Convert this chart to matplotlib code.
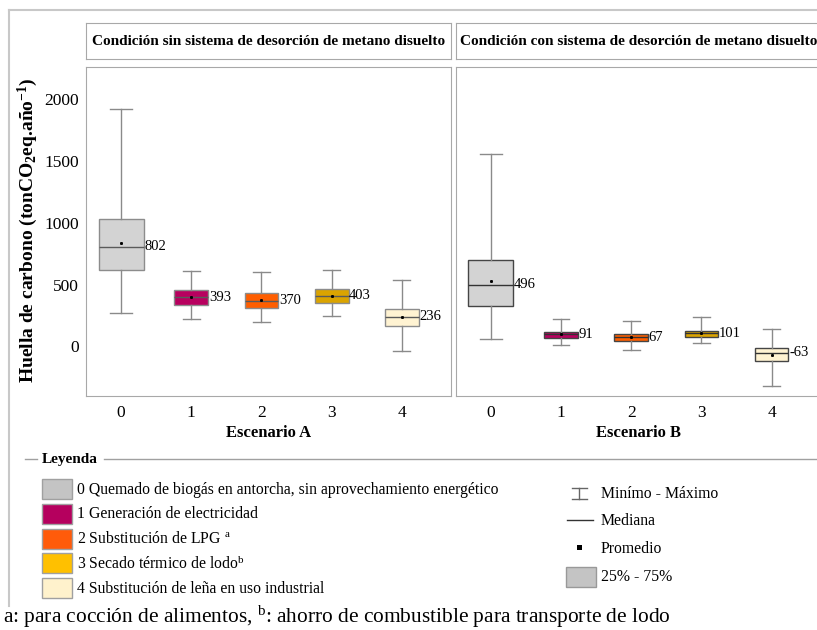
import matplotlib.pyplot as plt
from matplotlib.patches import Rectangle
from matplotlib.lines import Line2D

plt.rcParams['font.family'] = 'Liberation Serif'
plt.rcParams['mathtext.fontset'] = 'custom'
plt.rcParams['mathtext.rm'] = 'Liberation Serif'
plt.rcParams['mathtext.it'] = 'Liberation Serif:italic'
plt.rcParams['mathtext.bf'] = 'Liberation Serif:bold'

# ---------------------------------------------------------
# datos (tonCO2eq/año)
# ---------------------------------------------------------
escenarios = ['0', '1', '2', '3', '4']

a_min = [269, 223, 197, 245, -37]
a_q1 = [616, 336, 310, 350, 167]
a_med = [806, 398, 371, 411, 242]
a_q3 = [1027, 457, 430, 468, 306]
a_max = [1920, 610, 602, 616, 535]
a_prom = [839, 400, 377, 411, 242]
a_etiq = [802, 393, 370, 403, 236]

b_min = [62, 11, -27, 27, -323]
b_q1 = [323, 70, 43, 78, -118]
b_med = [498, 97, 73, 108, -51]
b_q3 = [702, 119, 97, 129, -13]
b_max = [1556, 226, 207, 237, 143]
b_prom = [530, 99, 73, 108, -67]
b_etiq = [496, 91, 67, 101, -63]

titulos = ['Condición sin sistema de desorción de metano disuelto',
           'Condición con sistema de desorción de metano disuelto']
leyenda = ['0 Quemado de biogás en antorcha, sin aprovechamiento energético',
           '1 Generación de electricidad',
           '2 Substitución de LPG $^{\\mathrm{a}}$',
           '3 Secado térmico de lodo$^{\\mathrm{b}}$',
           '4 Substitución de leña en uso industrial']

colores_caja = ['#D3D3D3', '#B8005F', '#FF5E00', '#DBA400', '#FFF3D2']
colores_ley = ['#C4C4C4', '#B5005E', '#FF5B0A', '#FFC000', '#FFF2CC']

W, H = 817, 630
fig = plt.figure(figsize=(W / 100, H / 100), dpi=100)


def px_axes(x0, y0, x1, y1):
    # ejes definidos en pixeles (origen arriba a la izquierda)
    return fig.add_axes([x0 / W, 1 - y1 / H, (x1 - x0) / W, (y1 - y0) / H])


def panel(ax, mins, q1, med, q3, maxs, prom, etiq, borde, mediana):
    stats = [dict(whislo=mins[i], q1=q1[i], med=med[i], q3=q3[i],
                  whishi=maxs[i], mean=prom[i]) for i in range(len(mins))]
    anchos = [0.64, 0.48, 0.48, 0.48, 0.48]
    bp = ax.bxp(stats, positions=range(len(stats)), widths=anchos,
                capwidths=[w * 0.5 for w in anchos], patch_artist=True,
                showmeans=True, showfliers=False,
                boxprops=dict(edgecolor=borde, linewidth=1),
                whiskerprops=dict(color='#8a8a8a', linewidth=1),
                capprops=dict(color='#8a8a8a', linewidth=1),
                medianprops=dict(color=mediana, linewidth=1),
                meanprops=dict(marker='s', markersize=1.1,
                               markerfacecolor='k', markeredgecolor='k'))
    for caja, c in zip(bp['boxes'], colores_caja):
        caja.set_facecolor(c)
    for i in range(len(etiq)):
        ax.annotate(str(etiq[i]), xy=(i + anchos[i] / 2, med[i]),
                    xytext=(0.5, 0), textcoords='offset points',
                    ha='left', va='center', fontsize=10.5)
    ax.set_xlim(-0.5, 4.7)
    ax.set_ylim(-400, 2260)
    ax.set_xticks(range(len(escenarios)))
    ax.set_xticklabels(escenarios)
    ax.tick_params(length=0, labelsize=12.5)
    ax.tick_params(axis='x', pad=6.5)
    for s in ax.spines.values():
        s.set_color('#a8a8a8')


ax_a = px_axes(86, 66.7, 451, 396)
panel(ax_a, a_min, a_q1, a_med, a_q3, a_max, a_prom, a_etiq, '#8c8c8c', '#5a5a5a')
ax_a.set_yticks([0, 500, 1000, 1500, 2000])
ax_a.tick_params(axis='y', pad=5)
ax_a.set_xlabel('Escenario A', fontsize=12, fontweight='bold', labelpad=3)

ax_b = px_axes(455.7, 66.7, 820.7, 396)
panel(ax_b, b_min, b_q1, b_med, b_q3, b_max, b_prom, b_etiq, '#454545', '#333333')
ax_b.set_yticks([])
ax_b.set_xlabel('Escenario B', fontsize=12, fontweight='bold', labelpad=3)

# franjas con titulo
for x0, t in zip([86, 455.7], titulos):
    st = px_axes(x0, 23.3, x0 + 365, 59)
    st.set_xticks([])
    st.set_yticks([])
    for s in st.spines.values():
        s.set_color('#a8a8a8')
    st.text(0.5, 0.5, t, ha='center', va='center', fontsize=11,
            fontweight='bold', transform=st.transAxes)

fig.text(28 / W, 1 - 230.5 / H,
         'Huella de carbono (tonCO$\\mathbf{_2}$eq.año$\\mathbf{^{-1}}$)',
         rotation=90, ha='center', va='center', fontsize=14, fontweight='bold')

# capa de fondo para marco, leyenda y nota
bg = fig.add_axes([0, 0, 1, 1], zorder=-1)
bg.set_xlim(0, W)
bg.set_ylim(H, 0)
bg.axis('off')

bg.add_line(Line2D([9.3, W], [10, 10], color='#c8c8c8', lw=1.5))
bg.add_line(Line2D([9.3, 9.3], [10, 606], color='#c8c8c8', lw=1.5))

bg.add_line(Line2D([25, 37], [459, 459], color='#a0a0a0', lw=1))
bg.add_line(Line2D([104, W], [459, 459], color='#a0a0a0', lw=1))
bg.text(42, 459, 'Leyenda', ha='left', va='center', fontsize=11, fontweight='bold')

for i, (lab, c) in enumerate(zip(leyenda, colores_ley)):
    y = 479.3 + i * 24.7
    bg.add_patch(Rectangle((41.7, y), 30, 20, facecolor=c, edgecolor='#a0a0a0', lw=1))
    bg.text(77, y + 10.5, lab, ha='left', va='center', fontsize=11.3)

# leyenda de simbolos
bg.add_line(Line2D([579, 579], [488, 499], color='#666666', lw=1))
bg.add_line(Line2D([572, 587], [488, 488], color='#666666', lw=1))
bg.add_line(Line2D([572, 587], [499, 499], color='#666666', lw=1))
bg.text(601, 494, 'Minímo - Máximo', ha='left', va='center', fontsize=11.3)
bg.add_line(Line2D([567, 593], [519.5, 519.5], color='#333333', lw=1))
bg.text(601, 521, 'Mediana', ha='left', va='center', fontsize=11.3)
bg.add_patch(Rectangle((577.5, 544.5), 5, 5, facecolor='k', edgecolor='none'))
bg.text(601, 549, 'Promedio', ha='left', va='center', fontsize=11.3)
bg.add_patch(Rectangle((566, 567), 30, 20, facecolor='#C4C4C4', edgecolor='#999999', lw=1))
bg.text(601, 577, '25% - 75%', ha='left', va='center', fontsize=11.3)

bg.text(3, 617, 'a: para cocción de alimentos, $^{\\mathrm{b}}$: ahorro de combustible para transporte de lodo',
        ha='left', va='center', fontsize=15.4)

fig.savefig('out.png', dpi=100)
